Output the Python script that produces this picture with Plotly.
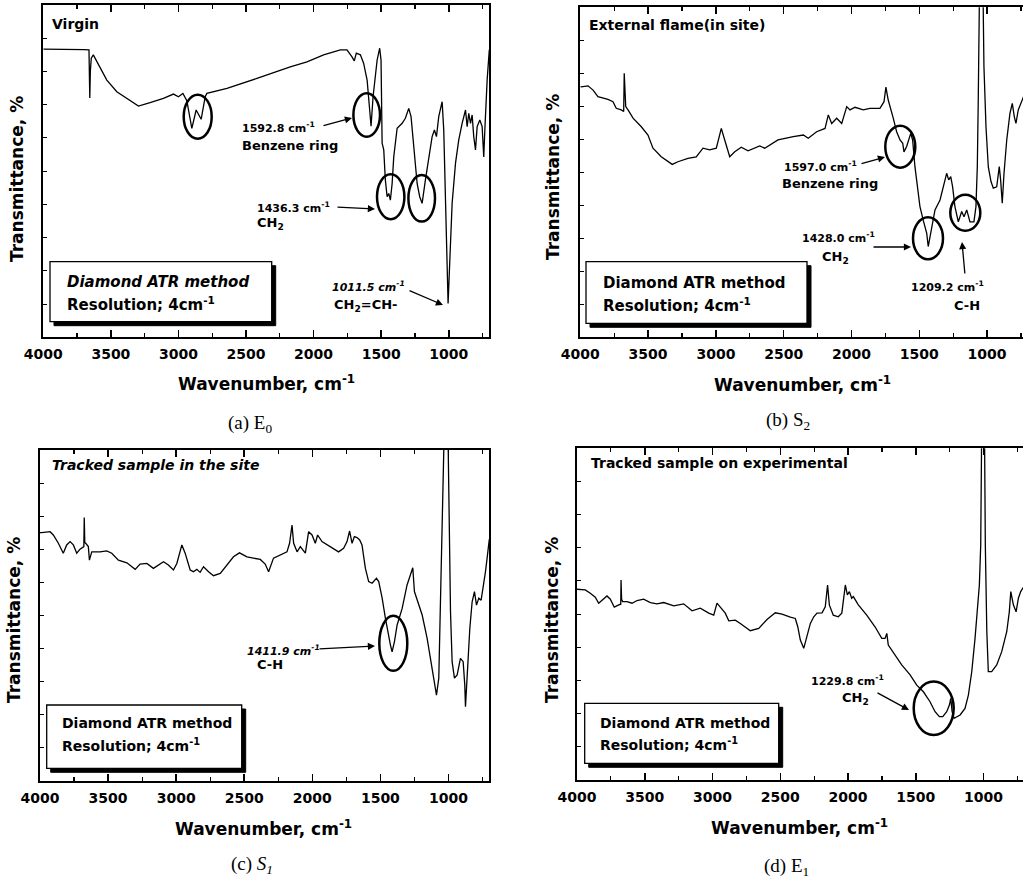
import plotly.graph_objects as go

W, H = 1023, 878
SANS = "DejaVu Sans"
SERIF = "Liberation Serif"

# ---------------- data (wavenumber cm-1, transmittance arbitrary %) ----------------
wn_a = [4000, 3963, 3800, 3700, 3662, 3656, 3652, 3645, 3630, 3530, 3456, 3382, 3296, 3210, 3111,
        3037, 3000, 2967, 2938, 2901, 2869, 2832, 2802, 2790, 2641, 2419, 2173, 2049, 1926,
        1802, 1753, 1716, 1699, 1684, 1654, 1630, 1604, 1585, 1575, 1560, 1543, 1530, 1511,
        1501, 1493, 1481, 1469, 1456, 1444, 1432, 1419, 1407, 1382, 1345, 1321, 1296, 1279,
        1259, 1234, 1215, 1197, 1173, 1148, 1123, 1106, 1091, 1074, 1049, 1037, 1024, 1012,
        1005, 993, 975, 950, 926, 901, 876, 864, 852, 839, 827, 815, 802, 790, 770, 753,
        741, 733, 716, 700]
t_a = [86.7, 86.7, 86.8, 86.6, 86.5, 72.0, 80.0, 84.0, 85.0, 77.4, 73.9, 71.9, 69.6, 70.6, 71.9,
       73.2, 72.4, 73.4, 71.2, 62.9, 68.4, 65.6, 72.4, 73.4, 74.9, 77.9, 81.4, 82.9, 85.0,
       86.5, 86.5, 84.4, 83.2, 85.5, 85.0, 82.5, 77.4, 68.4, 63.5, 72.4, 79.4, 83.4, 87.0,
       83.4, 58.4, 56.4, 47.3, 42.3, 43.3, 41.3, 46.3, 54.3, 62.9, 64.4, 65.9, 68.9, 66.4,
       56.4, 46.3, 42.3, 40.3, 47.3, 54.3, 60.4, 62.4, 60.4, 66.4, 70.9, 62.4, 42.3, 22.3,
       10.2, 22.3, 40.3, 52.4, 59.4, 64.4, 68.4, 63.4, 67.4, 64.4, 66.9, 60.4, 56.4, 63.4,
       65.4, 63.4, 54.3, 62.4, 77.4, 86.5]

wn_b = [4000, 3993, 3943, 3906, 3870, 3796, 3759, 3735, 3698, 3680, 3676, 3670, 3665, 3648, 3611,
        3550, 3501, 3464, 3403, 3322, 3280, 3206, 3145, 3095, 3046, 2997, 2960, 2935, 2898,
        2861, 2813, 2763, 2677, 2640, 2542, 2429, 2355, 2319, 2257, 2195, 2171, 2146, 2109,
        2072, 2035, 2011, 1974, 1913, 1864, 1790, 1760, 1746, 1729, 1692, 1667, 1642, 1622,
        1613, 1593, 1563, 1549, 1532, 1515, 1495, 1471, 1445, 1434, 1409, 1384, 1347, 1323,
        1298, 1283, 1268, 1254, 1237, 1212, 1187, 1170, 1150, 1126, 1097, 1082, 1072, 1065,
        1056, 1030, 1023, 1008, 991, 971, 954, 929, 910, 900, 888, 875, 855, 831, 814, 799,
        787, 770, 745, 736, 720]
t_b = [76.0, 75.9, 76.2, 74.9, 72.9, 72.1, 71.4, 69.4, 68.9, 68.4, 80.0, 71.0, 69.9, 68.9, 66.4,
       63.8, 61.3, 57.3, 54.7, 52.4, 53.2, 54.2, 54.7, 57.3, 56.8, 57.3, 63.3, 59.8, 54.7,
       56.2, 57.6, 56.5, 58.0, 57.3, 59.8, 60.8, 61.3, 60.3, 62.3, 63.3, 67.4, 64.8, 66.4,
       64.8, 69.9, 68.9, 69.7, 68.9, 69.4, 69.4, 71.4, 75.8, 71.9, 66.4, 62.3, 59.8, 58.8,
       56.2, 57.8, 61.8, 59.8, 51.7, 45.6, 39.6, 35.5, 31.5, 27.5, 33.5, 38.6, 41.6, 45.6,
       49.7, 47.7, 48.7, 45.6, 39.6, 35.0, 38.1, 36.5, 38.6, 35.0, 35.0, 39.6, 51.7, 71.9,
       105.0, 105.0, 82.0, 63.8, 51.7, 47.2, 45.2, 45.6, 51.7, 47.7, 40.6, 49.7, 59.8, 67.9, 70.9, 66.8,
       64.8, 68.9, 71.9, 72.4, 74.0]

wn_c = [4000, 3987, 3926, 3902, 3865, 3840, 3829, 3804, 3779, 3755, 3730, 3706, 3682, 3678, 3675,
        3671, 3664, 3645, 3637, 3620, 3559, 3510, 3473, 3424, 3362, 3301, 3265, 3215, 3167,
        3093, 3057, 3020, 2995, 2958, 2934, 2897, 2873, 2848, 2824, 2799, 2762, 2726, 2676,
        2627, 2579, 2535, 2480, 2432, 2382, 2346, 2321, 2285, 2235, 2186, 2167, 2149, 2137,
        2112, 2088, 2051, 2027, 2002, 1978, 1961, 1929, 1868, 1807, 1770, 1745, 1726, 1708,
        1691, 1671, 1652, 1635, 1610, 1586, 1561, 1529, 1512, 1487, 1463, 1446, 1426, 1414,
        1397, 1377, 1340, 1304, 1279, 1262, 1250, 1226, 1193, 1157, 1132, 1108, 1088, 1071,
        1054, 1039, 1029, 1005, 995, 985, 973, 956, 936, 912, 892, 880, 875, 863, 843, 826,
        809, 794, 777, 760, 745, 728, 716, 704, 700]
t_c = [75.0, 75.0, 75.3, 74.3, 71.8, 69.8, 68.8, 71.3, 72.3, 71.3, 68.8, 70.0, 70.8, 70.8, 79.6,
       72.0, 71.8, 70.8, 66.7, 69.2, 69.2, 69.5, 68.8, 66.7, 65.9, 63.9, 65.5, 65.7, 64.2,
       66.2, 65.2, 63.7, 65.7, 71.3, 68.8, 63.7, 63.2, 63.9, 63.0, 64.7, 63.2, 62.0, 62.7,
       65.2, 67.7, 68.9, 67.7, 67.3, 66.9, 65.5, 63.2, 67.3, 68.2, 69.2, 71.8, 77.3, 71.8,
       69.2, 70.8, 68.8, 75.3, 74.3, 71.8, 74.3, 72.3, 70.8, 69.2, 70.3, 72.3, 75.5, 71.8,
       73.8, 73.5, 72.8, 71.3, 64.2, 60.2, 59.7, 61.2, 60.2, 55.2, 49.1, 45.1, 41.0, 39.0,
       42.0, 47.1, 52.1, 59.2, 62.2, 64.4, 57.2, 54.1, 50.1, 43.1, 37.0, 31.0, 25.9, 31.0,
       61.2, 86.4, 110.0, 110.0, 76.3, 51.1, 36.0, 31.0, 32.0, 37.0, 36.0, 28.9, 22.4, 33.0, 46.1, 54.1,
       57.2, 53.1, 55.2, 54.6, 58.2, 63.2, 67.3, 72.3, 73.0]

wn_d = [4000, 3987, 3939, 3902, 3865, 3840, 3815, 3779, 3754, 3725, 3692, 3677, 3675, 3671, 3663,
        3631, 3594, 3557, 3508, 3459, 3410, 3360, 3286, 3213, 3151, 3090, 3028, 2991, 2967,
        2942, 2906, 2880, 2832, 2795, 2721, 2659, 2598, 2537, 2487, 2426, 2389, 2371, 2352,
        2327, 2303, 2278, 2253, 2229, 2192, 2168, 2151, 2138, 2109, 2072, 2046, 2030, 2020,
        2005, 1990, 1973, 1961, 1924, 1862, 1801, 1751, 1727, 1714, 1703, 1653, 1604, 1542,
        1493, 1444, 1395, 1358, 1326, 1301, 1272, 1252, 1242, 1232, 1218, 1173, 1137, 1112,
        1087, 1063, 1043, 1031, 1021, 1013, 994, 987, 976, 965, 940, 903, 866, 829, 810, 799,
        780, 760, 743, 726, 711, 700]
t_d = [57.5, 57.5, 57.3, 56.3, 55.1, 53.3, 54.1, 55.5, 54.5, 52.1, 52.8, 53.0, 60.3, 54.5, 53.8,
       53.8, 53.3, 54.1, 54.5, 53.5, 53.1, 53.5, 52.5, 53.1, 51.0, 51.8, 50.3, 49.7, 53.3,
       52.1, 50.3, 48.0, 48.2, 47.2, 45.0, 45.7, 48.4, 50.4, 50.0, 49.1, 48.7, 46.2, 42.2,
       39.7, 43.2, 47.2, 49.2, 50.3, 50.4, 52.2, 58.8, 52.8, 49.7, 49.2, 50.3, 56.8, 58.8,
       55.8, 56.8, 54.8, 55.3, 52.8, 49.7, 46.2, 42.7, 42.7, 44.2, 40.7, 37.7, 34.7, 31.7,
       28.6, 26.6, 23.6, 20.6, 19.1, 19.1, 20.6, 22.6, 24.6, 20.6, 18.6, 19.6, 21.6, 25.6,
       32.7, 42.7, 52.8, 58.8, 70.8, 110.0, 110.0, 70.8, 44.7, 32.7, 32.7, 34.7, 38.7, 44.7, 50.7, 56.8,
       52.8, 50.7, 54.8, 56.8, 57.8, 58.5]

x_ticks = [4000, 3500, 3000, 2500, 2000, 1500, 1000]
x_tick_text = ["4000", "3500", "3000", "2500", "2000", "1500", "1000"]

# ---------------- layout helpers ----------------
def fx(px):
    return px / W

def fy(py):
    return 1 - py / H

panels = [
    dict(key="", x0=43.3, x1=489.3, y0=5.0, y1=337.3, rng=[4000, 700], right=True, wn=wn_a, t=t_a),
    dict(key="2", x0=580.3, x1=1023, y0=7.3, y1=337.3, rng=[4000, 735], right=False, wn=wn_b, t=t_b),
    dict(key="3", x0=40.0, x1=489.3, y0=450.0, y1=780.7, rng=[4000, 700], right=True, wn=wn_c, t=t_c),
    dict(key="4", x0=577.0, x1=1023, y0=448.3, y1=780.0, rng=[4000, 709], right=False, wn=wn_d, t=t_d),
]

fig = go.Figure()
layout = dict(
    template="none",
    width=W, height=H, margin=dict(l=0, r=0, t=0, b=0, pad=0, autoexpand=False),
    paper_bgcolor="white", plot_bgcolor="white", showlegend=False,
)

for p in panels:
    k = p["key"]
    fig.add_trace(go.Scatter(
        x=p["wn"], y=p["t"], mode="lines",
        line=dict(color="black", width=1.3),
        xaxis="x" + k, yaxis="y" + k, hoverinfo="skip",
    ))
    layout["xaxis" + k] = dict(
        domain=[fx(p["x0"]), fx(p["x1"])], range=p["rng"], anchor="y" + k,
        automargin=False,
        showline=True, linecolor="black", linewidth=2, mirror="ticks",
        ticks="inside", ticklen=7, tickwidth=1.5, tickcolor="black",
        tickmode="array", tickvals=x_ticks, ticktext=x_tick_text,
        minor=dict(dtick=250, tick0=1000, ticks="inside", ticklen=4, tickwidth=1.2, tickcolor="black"),
        tickfont=dict(family=SANS, size=14, color="black", weight="bold"),
        ticklabelstandoff=3,
        showgrid=False, zeroline=False, fixedrange=True,
    )
    layout["yaxis" + k] = dict(
        domain=[fy(p["y1"]), fy(p["y0"])], range=[0, 100], anchor="x" + k,
        automargin=False,
        showline=True, linecolor="black", linewidth=2, mirror=p["right"],
        ticks="inside", ticklen=4, tickwidth=1, tickcolor="black", dtick=10,
        showticklabels=False, showgrid=False, zeroline=False, fixedrange=True,
    )

fig.update_layout(**layout)


def txt(px, py, text, size, italic=False, bold=True, family=SANS, xanchor="left", angle=0):
    fig.add_annotation(
        x=fx(px), y=fy(py), xref="paper", yref="paper", text=text, showarrow=False,
        xanchor=xanchor, yanchor="middle", textangle=angle,
        font=dict(family=family, size=size, color="black",
                  weight="bold" if bold else "normal",
                  style="italic" if italic else "normal"),
    )


def arrow(hx, hy, tx, ty):
    fig.add_annotation(
        x=fx(hx), y=fy(hy), xref="paper", yref="paper", text="",
        showarrow=True, ax=tx - hx, ay=ty - hy, axref="pixel", ayref="pixel",
        arrowhead=2, arrowsize=1.1, arrowwidth=1.3, arrowcolor="black",
    )


def ellipse(cx, cy, rx, ry):
    fig.add_shape(type="circle", xref="paper", yref="paper",
                  x0=fx(cx - rx), x1=fx(cx + rx), y0=fy(cy + ry), y1=fy(cy - ry),
                  line=dict(color="black", width=2.5), layer="above")


def infobox(x0, y0, x1, y1, tx, ty1, ty2, size, italic1):
    fig.add_shape(type="rect", xref="paper", yref="paper",
                  x0=fx(x0 + 4), x1=fx(x1 + 4), y0=fy(y1 + 4), y1=fy(y0 + 4),
                  line=dict(color="black", width=1), fillcolor="black", layer="above")
    fig.add_shape(type="rect", xref="paper", yref="paper",
                  x0=fx(x0), x1=fx(x1), y0=fy(y1), y1=fy(y0),
                  line=dict(color="black", width=1.3), fillcolor="white", layer="above")
    txt(tx, ty1, "Diamond ATR method", size, italic=italic1)
    txt(tx, ty2, "Resolution; 4cm<sup>-1</sup>", size)


# axis titles and captions
ytitle = "Transmittance, %"
xtitle = "Wavenumber, cm<sup>-1</sup>"
for (yx, yy, xx, xy, cx, cy, cap) in [
    (17, 179, 266, 383, 250, 424, "(a) E<sub>0</sub>"),
    (553, 177, 802, 384, 788, 421, "(b) S<sub>2</sub>"),
    (14, 620, 263, 828, 252, 865, "(c) <i>S<sub>1</sub></i>"),
    (552, 620, 799, 827, 786, 867, "(d) E<sub>1</sub>"),
]:
    txt(yx, yy, ytitle, 17, xanchor="center", angle=-90)
    txt(xx, xy, xtitle, 17, xanchor="center")
    txt(cx, cy, cap, 19, bold=False, family=SERIF, xanchor="center")

# ---- panel (a)
txt(50, 24, "Virgin", 14)
ellipse(197.7, 116.7, 14, 22)
ellipse(366.7, 115, 13.3, 21.7)
ellipse(390.7, 196.7, 13.7, 22.5)
ellipse(421.7, 198.3, 13.3, 23.3)
txt(240, 128, "1592.8 cm<sup>-1</sup>", 11)
txt(240, 145, "Benzene ring", 13)
arrow(352, 118, 322, 126)
txt(255, 207, "1436.3 cm<sup>-1</sup>", 11)
txt(255, 223, "CH<sub>2</sub>", 13)
arrow(375, 209, 336, 207)
txt(330, 286, "1011.5 cm<sup>-1</sup>", 11, italic=True)
txt(332, 305, "CH<sub>2</sub>=CH-", 13)
arrow(443, 305, 408, 290)
infobox(50, 261.7, 271.7, 321.7, 65, 282, 304, 15, True)

# ---- panel (b)
txt(587, 25, "External flame(in site)", 14)
ellipse(900.3, 146.7, 15, 21)
ellipse(928, 238.3, 15, 21)
ellipse(965.3, 212.7, 15, 18)
txt(782, 166, "1597.0 cm<sup>-1</sup>", 11)
txt(780, 183, "Benzene ring", 13)
arrow(885, 157, 860, 164)
txt(800, 237, "1428.0 cm<sup>-1</sup>", 11)
txt(820, 257, "CH<sub>2</sub>", 13)
arrow(911, 247, 872, 247)
txt(909, 286, "1209.2 cm<sup>-1</sup>", 11)
txt(952, 305, "C-H", 13)
arrow(962, 242, 965, 275)
infobox(586, 261.7, 807, 323.3, 601, 283, 305, 15, False)

# ---- panel (c)
txt(50, 465, "Tracked sample in the site", 14, italic=True)
ellipse(393.3, 643.3, 14, 27.5)
txt(245, 650, "1411.9 cm<sup>-1</sup>", 11, italic=True)
txt(255, 664, "C-H", 13)
arrow(375, 646, 318, 649)
infobox(46.7, 705, 241.7, 768.3, 60, 723, 745, 14, False)

# ---- panel (d)
txt(589, 463, "Tracked sample on experimental", 14)
ellipse(933.7, 708.3, 20, 26.7)
txt(809, 680, "1229.8 cm<sup>-1</sup>", 11)
txt(840, 698, "CH<sub>2</sub>", 13)
arrow(909, 710, 876, 692)
infobox(584.7, 703.3, 778.7, 763.3, 598, 723, 744, 14, False)

fig.write_html(
    "out.html",
    config={"displayModeBar": False, "staticPlot": True},
    post_script="document.body.style.margin='0';document.body.style.overflow='hidden';",
)
